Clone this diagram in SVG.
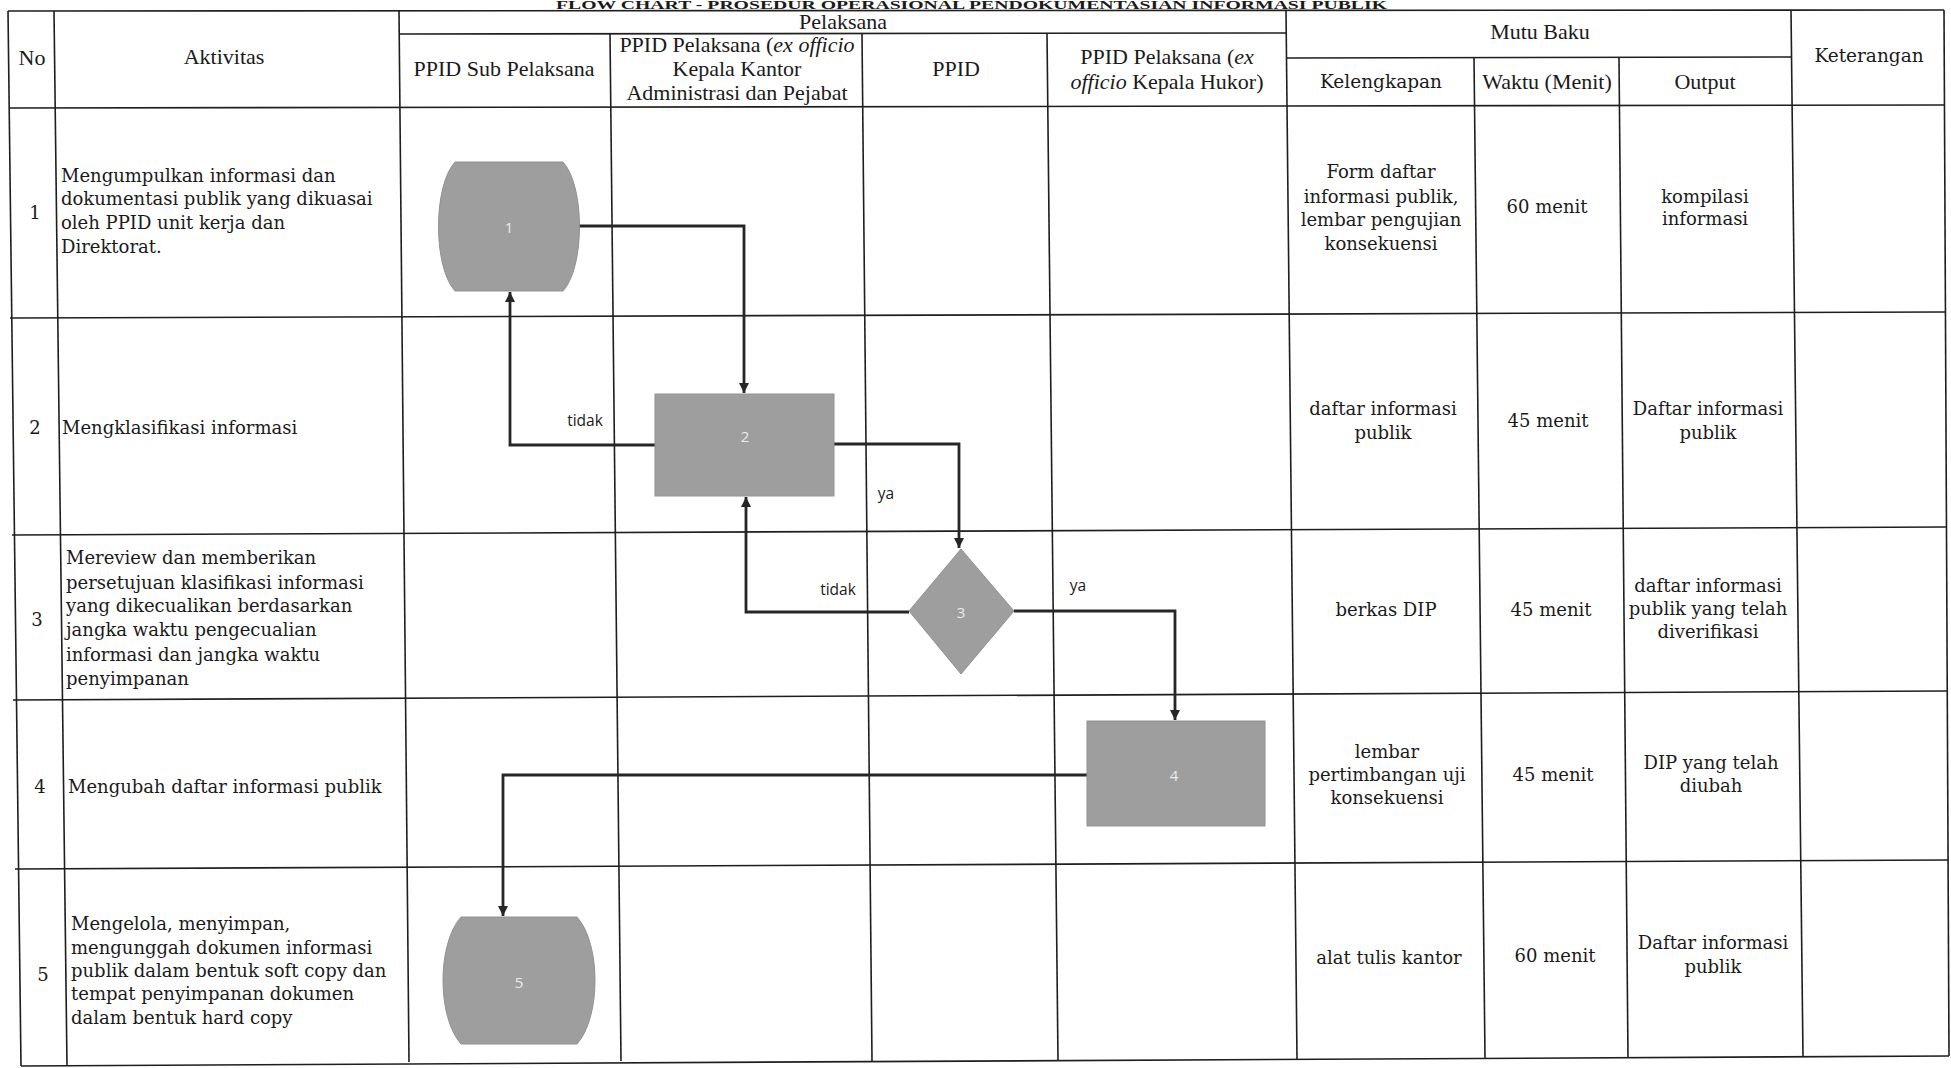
<svg xmlns="http://www.w3.org/2000/svg" width="1951" height="1068" viewBox="0 0 1951 1068">
<defs>
<style>
.grid{stroke:#1e1e1e;stroke-width:1.6;fill:none}
.hd{font-family:"Liberation Serif",serif;font-size:22px;fill:#1a1a1a}
.hb{font-family:"DejaVu Serif",serif;font-size:18.5px;fill:#1a1a1a}
.tx{font-family:"DejaVu Serif",serif;font-size:18px;fill:#1a1a1a}
.mid{text-anchor:middle}
.lbl{font-family:"Open Sans",sans-serif;font-size:15.5px;fill:#1a1a1a}
.num{font-family:"Open Sans",sans-serif;font-size:15px;fill:#ececec;text-anchor:middle}
.shape{fill:#9e9e9e;stroke:#929292;stroke-width:1}
.conn{stroke:#262626;stroke-width:2.8;fill:none;marker-end:url(#arr)}
.title{font-family:"Liberation Serif",serif;font-size:11.5px;font-weight:bold;fill:#1a1a1a}
</style>
<marker id="arr" viewBox="0 0 10 10" refX="10" refY="5" markerWidth="12" markerHeight="10" markerUnits="userSpaceOnUse" orient="auto">
<path d="M0,0 L10,5 L0,10 Z" fill="#262626"/>
</marker>
</defs>
<rect width="1951" height="1068" fill="#ffffff"/>
<text class="title" x="556" y="9" textLength="831" lengthAdjust="spacingAndGlyphs">FLOW CHART - PROSEDUR OPERASIONAL PENDOKUMENTASIAN INFORMASI PUBLIK</text>

<g id="table">
<path class="grid" d="M8,11 L1944,10"/>
<path class="grid" d="M399,34 L1286,33"/>
<path class="grid" d="M1286,58 L1791,57"/>
<path class="grid" d="M9,108 L1944,105"/>
<path class="grid" d="M10,318 L1945,312"/>
<path class="grid" d="M12,535 L1946,527"/>
<path class="grid" d="M13,700 L1947,691"/>
<path class="grid" d="M15,869 L1948,860"/>
<path class="grid" d="M21,1066 L1949,1056"/>
<path class="grid" d="M8,11 L21,1066"/>
<path class="grid" d="M54,11 L67,1066"/>
<path class="grid" d="M399,11 L409,1062"/>
<path class="grid" d="M610,34 L621,1061"/>
<path class="grid" d="M862,34 L872,1061"/>
<path class="grid" d="M1047,33 L1058,1060"/>
<path class="grid" d="M1286,10 L1297,1059"/>
<path class="grid" d="M1474,58 L1485,1058"/>
<path class="grid" d="M1619,58 L1628,1058"/>
<path class="grid" d="M1791,10 L1803,1057"/>
<path class="grid" d="M1944,10 L1949,1056"/>
</g>

<g id="headers">
<text class="hd mid" x="32" y="65">No</text>
<text class="hd mid" x="224" y="64">Aktivitas</text>
<text class="hd mid" x="843" y="29">Pelaksana</text>
<text class="hd mid" x="504" y="76">PPID Sub Pelaksana</text>
<text class="hd mid" x="737" y="52">PPID Pelaksana (<tspan font-style="italic">ex officio</tspan></text>
<text class="hd mid" x="737" y="76">Kepala Kantor</text>
<text class="hd mid" x="737" y="100">Administrasi dan Pejabat</text>
<text class="hd mid" x="956" y="76">PPID</text>
<text class="hd mid" x="1167" y="64">PPID Pelaksana (<tspan font-style="italic">ex</tspan></text>
<text class="hd mid" x="1167" y="89"><tspan font-style="italic">officio</tspan> Kepala Hukor)</text>
<text class="hd mid" x="1540" y="39">Mutu Baku</text>
<text class="hb mid" x="1381" y="88">Kelengkapan</text>
<text class="hd mid" x="1547" y="89">Waktu (Menit)</text>
<text class="hd mid" x="1705" y="89">Output</text>
<text class="hb mid" x="1869" y="62">Keterangan</text>
</g>

<g id="rows">
<text class="tx mid" x="35" y="219">1</text>
<text class="tx" x="61" y="182">Mengumpulkan informasi dan</text>
<text class="tx" x="61" y="205">dokumentasi publik yang dikuasai</text>
<text class="tx" x="61" y="229">oleh PPID unit kerja dan</text>
<text class="tx" x="61" y="253">Direktorat.</text>
<text class="tx mid" x="1381" y="178">Form daftar</text>
<text class="tx mid" x="1381" y="203">informasi publik,</text>
<text class="tx mid" x="1381" y="226">lembar pengujian</text>
<text class="tx mid" x="1381" y="250">konsekuensi</text>
<text class="tx mid" x="1547" y="213">60 menit</text>
<text class="tx mid" x="1705" y="203">kompilasi</text>
<text class="tx mid" x="1705" y="225">informasi</text>

<text class="tx mid" x="35" y="434">2</text>
<text class="tx" x="62" y="434">Mengklasifikasi informasi</text>
<text class="tx mid" x="1383" y="415">daftar informasi</text>
<text class="tx mid" x="1383" y="439">publik</text>
<text class="tx mid" x="1548" y="427">45 menit</text>
<text class="tx mid" x="1708" y="415">Daftar informasi</text>
<text class="tx mid" x="1708" y="439">publik</text>

<text class="tx mid" x="37" y="626">3</text>
<text class="tx" x="66" y="564">Mereview dan memberikan</text>
<text class="tx" x="66" y="589">persetujuan klasifikasi informasi</text>
<text class="tx" x="66" y="612">yang dikecualikan berdasarkan</text>
<text class="tx" x="66" y="636">jangka waktu pengecualian</text>
<text class="tx" x="66" y="661">informasi dan jangka waktu</text>
<text class="tx" x="66" y="685">penyimpanan</text>
<text class="tx mid" x="1386" y="616">berkas DIP</text>
<text class="tx mid" x="1551" y="616">45 menit</text>
<text class="tx mid" x="1708" y="592">daftar informasi</text>
<text class="tx mid" x="1708" y="615">publik yang telah</text>
<text class="tx mid" x="1708" y="638">diverifikasi</text>

<text class="tx mid" x="40" y="793">4</text>
<text class="tx" x="68" y="793">Mengubah daftar informasi publik</text>
<text class="tx mid" x="1387" y="758">lembar</text>
<text class="tx mid" x="1387" y="781">pertimbangan uji</text>
<text class="tx mid" x="1387" y="804">konsekuensi</text>
<text class="tx mid" x="1553" y="781">45 menit</text>
<text class="tx mid" x="1711" y="769">DIP yang telah</text>
<text class="tx mid" x="1711" y="792">diubah</text>

<text class="tx mid" x="43" y="981">5</text>
<text class="tx" x="71" y="930">Mengelola, menyimpan,</text>
<text class="tx" x="71" y="954">mengunggah dokumen informasi</text>
<text class="tx" x="71" y="977">publik dalam bentuk soft copy dan</text>
<text class="tx" x="71" y="1000">tempat penyimpanan dokumen</text>
<text class="tx" x="71" y="1024">dalam bentuk hard copy</text>
<text class="tx mid" x="1389" y="964">alat tulis kantor</text>
<text class="tx mid" x="1555" y="962">60 menit</text>
<text class="tx mid" x="1713" y="949">Daftar informasi</text>
<text class="tx mid" x="1713" y="973">publik</text>
</g>

<g id="connectors">
<path class="conn" d="M579,226 L744,226 L744,393"/>
<path class="conn" d="M656,445 L510,445 L510,292"/>
<path class="conn" d="M834,444 L959,444 L959,548"/>
<path class="conn" d="M909,612 L746,612 L746,497"/>
<path class="conn" d="M1014,611 L1175,611 L1175,720"/>
<path class="conn" d="M1087,775 L503,775 L503,916"/>
<text class="lbl mid" x="585" y="426">tidak</text>
<text class="lbl mid" x="886" y="499">ya</text>
<text class="lbl mid" x="838" y="595">tidak</text>
<text class="lbl mid" x="1078" y="591">ya</text>
</g>

<g id="node1">
<path class="shape" d="M455,162 L563,162 C585,186 585,267 563,291 L455,291 C433,267 433,186 455,162 Z"/>
<text class="num" x="509" y="233">1</text>
</g>
<g id="node2">
<rect class="shape" x="655" y="394" width="179" height="102"/>
<text class="num" x="745" y="442">2</text>
</g>
<g id="node3">
<path class="shape" d="M961,549 L1014,611 L961,674 L909,611 Z"/>
<text class="num" x="961" y="618">3</text>
</g>
<g id="node4">
<rect class="shape" x="1087" y="721" width="178" height="105"/>
<text class="num" x="1174" y="781">4</text>
</g>
<g id="node5">
<path class="shape" d="M461,917 L577,917 C601,944 601,1017 577,1044 L461,1044 C437,1017 437,944 461,917 Z"/>
<text class="num" x="519" y="988">5</text>
</g>
</svg>
